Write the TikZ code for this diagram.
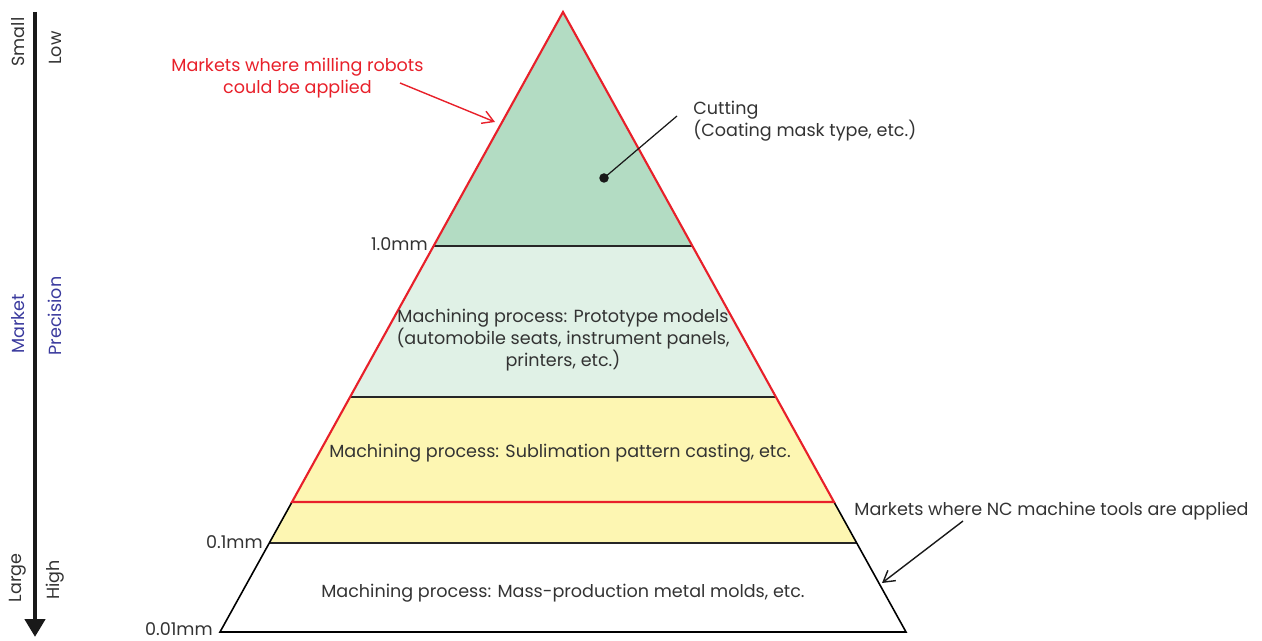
\documentclass[tikz,border=0pt]{standalone}
\usepackage{fontspec}
\setmainfont{Poppins}
\usepackage{xcolor}
\usetikzlibrary{arrows.meta}
\definecolor{pyrred}{HTML}{E8202A}
\definecolor{cutgreen}{HTML}{B3DCC3}
\definecolor{protogreen}{HTML}{E0F1E6}
\definecolor{castyellow}{HTML}{FDF6B2}
\definecolor{axisblue}{HTML}{3B3B9E}
\definecolor{txtgray}{HTML}{333333}
\tikzset{
  lbl/.style={inner sep=0pt, text=txtgray, font=\fontsize{10}{12.5}\selectfont},
  sidelbl/.style={lbl, rotate=90},
  level/.style={draw=black!85, line width=0.8pt},
}

\begin{document}
\begin{tikzpicture}[x=0.02cm,y=-0.02cm]
\useasboundingbox (0,0) rectangle (1262,641);

\coordinate (top) at (563,12);
\coordinate (l1) at (433.5,246);
\coordinate (r1) at (692.5,246);
\coordinate (l2) at (350,397);
\coordinate (r2) at (776,397);
\coordinate (l3) at (292,502);
\coordinate (r3) at (834,502);
\coordinate (l4) at (269.2,543);
\coordinate (r4) at (856.8,543);
\coordinate (bl) at (220,632);
\coordinate (br) at (906,632);

\fill [cutgreen] (top) -- (l1) -- (r1) -- cycle;
\fill [protogreen] (l1) -- (l2) -- (r2) -- (r1) -- cycle;
\fill [castyellow] (l2) -- (l4) -- (r4) -- (r2) -- cycle;
\draw [level] (l1) -- (r1) (l2) -- (r2) (l4) -- (r4);
\draw [black, line width=0.9pt] (l3) -- (bl) -- (br) -- (r3);
\draw [pyrred, line width=1.2pt] (l3) -- (top) -- (r3) -- cycle;

% axis on the left
\coordinate (atop) at (35,12);
\coordinate (abot) at (35,637);
\draw [black!90, line width=2.8pt, -{Triangle[length=0.36cm,width=0.4cm]}] (atop) -- (abot);
\node [sidelbl] (small) at (18,42) {Small};
\node [sidelbl] (low) at (55,48) {Low};
\node [sidelbl, text=axisblue] (market) at (18,324) {Market};
\node [sidelbl, text=axisblue] (precision) at (55,316) {Precision};
\node [sidelbl] (large) at (18,578) {Large};
\node [sidelbl] (high) at (55,580) {High};

% sizes
\node [lbl, anchor=east] (mm1) at (428,244) {1.0mm};
\node [lbl, anchor=east] (mm01) at (263,542) {0.1mm};
\node [lbl, anchor=east] (mm001) at (213,629) {0.01mm};

% layers
\node [lbl, align=center] (proto) at (563,340) {Machining process: Prototype models\\(automobile seats, instrument panels,\\printers, etc.)};
\node [lbl] (subl) at (560,453) {Machining process: Sublimation pattern casting, etc.};
\node [lbl] (mass) at (563,593) {Machining process: Mass-production metal molds, etc.};

% cutting
\node (dot) at (604,178) [circle, fill=black!90, inner sep=0pt, minimum size=0.19cm] {};
\coordinate (cutend) at (677,116);
\draw [black!90, line width=0.7pt] (dot.center) -- (cutend);
\node [lbl, anchor=west, align=left] (cut) at (693,121) {Cutting\\(Coating mask type, etc.)};

% markets
\node [lbl, text=pyrred, align=center] (robots) at (297.5,78) {Markets where milling robots\\could be applied};
\coordinate (rstart) at (400,83);
\coordinate (rtip) at (495,122);
\draw [pyrred, line width=0.8pt, -{Straight Barb[length=2.2mm,width=2.6mm]}] (rstart) -- (rtip);

\node [lbl] (nc) at (1051.5,511) {Markets where NC machine tools are applied};
\coordinate (ncstart) at (963,521);
\coordinate (nctip) at (882,583);
\draw [black!90, line width=0.8pt, -{Straight Barb[length=2.2mm,width=2.6mm]}] (ncstart) -- (nctip);
\end{tikzpicture}
\end{document}
